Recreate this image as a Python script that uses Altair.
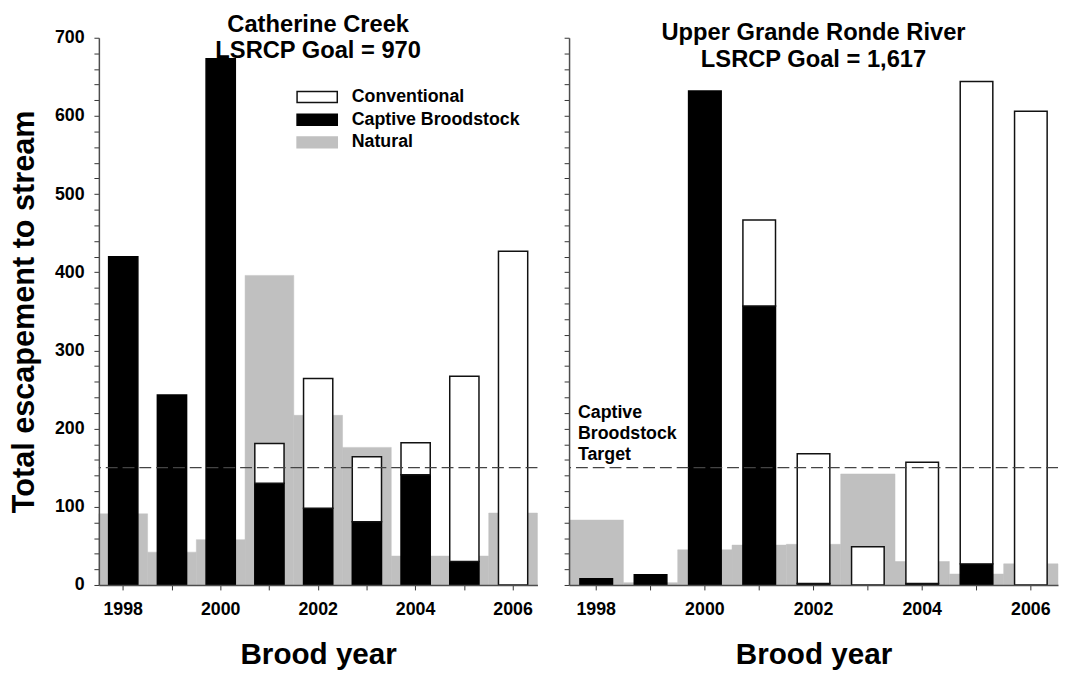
import altair as alt
import pandas as pd

# ---------------- data ----------------
years = [1998, 1999, 2000, 2001, 2002, 2003, 2004, 2005, 2006]

cc_natural = [91, 42, 58, 396, 217, 176, 37, 37, 92]
cc_captive = [420, 243, 673, 130, 98, 81, 141, 30, 0]
cc_conventional = [0, 0, 0, 51, 166, 83, 41, 237, 427]

gr_natural = [83, 3, 45, 51, 52, 142, 30, 14, 27]
gr_captive = [8, 13, 632, 357, 2, 0, 2, 27, 0]
gr_conventional = [0, 0, 0, 110, 166, 49, 155, 617, 606]

captive_target = [150]
target_label = ["Captive", "Broodstock", "Target"]

cc_title = ["Catherine Creek", "LSRCP Goal = 970"]
gr_title = ["Upper Grande Ronde River", "LSRCP Goal = 1,617"]

types = ["Conventional", "Captive Broodstock", "Natural"]
fill_colors = ["white", "black", "#c0c0c0"]
stroke_colors = ["#111111", "black", "#c0c0c0"]

FONT = "Liberation Sans"


def build_df(natural, captive, conventional):
    rows = []
    for yr, n, c, v in zip(years, natural, captive, conventional):
        rows.append({"year": yr, "type": "Natural", "lo": 0, "hi": n})
        rows.append({"year": yr, "type": "Captive Broodstock", "lo": 0, "hi": c})
        rows.append({"year": yr, "type": "Conventional", "lo": c, "hi": c + v})
    return pd.DataFrame(rows)


def panel(df, title_lines, width, left):
    yscale = alt.Scale(domain=[0, 700], nice=False, zero=True)
    xenc = alt.X(
        "year:O",
        scale=alt.Scale(paddingInner=0, paddingOuter=0),
        axis=alt.Axis(
            title="Brood year",
            labelAngle=0,
            labelExpr="datum.value % 2 === 0 ? datum.label : ''",
            tickSize=5,
            labelPadding=11,
            labelFontSize=18,
            titleFontSize=30,
            titlePadding=21,
            zindex=1,
        ),
    )
    if left:
        yaxis = alt.Axis(
            title="Total escapement to stream",
            values=list(range(0, 701, 20)),
            labelExpr="datum.value % 100 === 0 ? datum.label : ''",
            tickSize=5,
            labelPadding=10,
            labelFontSize=18,
            titleFontSize=31,
            titlePadding=14,
            labelFlush=False,
            labelOverlap=False,
            zindex=1,
        )
        legend = alt.Legend(
            title=None,
            orient="none",
            legendX=212,
            legendY=51,
            symbolType="M-3.7,-1H3.7V1H-3.7Z",
            symbolSize=121,
            symbolStrokeWidth=1.5,
            labelFont=FONT,
            labelFontSize=18,
            labelFontWeight="bold",
            labelColor="black",
            labelOffset=26,
            labelLimit=400,
            rowPadding=5,
            padding=0,
        )
    else:
        yaxis = alt.Axis(
            title=None,
            values=list(range(0, 701, 20)),
            labels=False,
            tickSize=5,
            zindex=1,
        )
        legend = None

    yenc = alt.Y("lo:Q", scale=yscale, axis=yaxis)
    fill = alt.Fill("type:N", scale=alt.Scale(domain=types, range=fill_colors), legend=legend)
    stroke = alt.Stroke("type:N", scale=alt.Scale(domain=types, range=stroke_colors), legend=legend)

    base = alt.Chart(df)
    natural = base.transform_filter("datum.type === 'Natural'").mark_bar(
        strokeWidth=0.5, opacity=1
    ).encode(x=xenc, y=yenc, y2="hi:Q", fill=fill, stroke=stroke)

    hatchery = base.transform_filter(
        "datum.type !== 'Natural' && datum.hi > datum.lo"
    ).mark_bar(width=alt.RelativeBandSize(0.6), strokeWidth=1.5, opacity=1).encode(
        x=xenc, y=yenc, y2="hi:Q", fill=fill, stroke=stroke
    )

    tdf = pd.DataFrame({"target": captive_target})
    rule = alt.Chart(tdf).mark_rule(
        strokeDash=[12, 5], color="#444444", strokeWidth=1.3
    ).encode(y=alt.Y("target:Q", scale=yscale, axis=yaxis))

    layers = [natural, hatchery, rule]
    if not left:
        annot = alt.Chart(tdf).mark_text(
            text=target_label,
            align="left",
            baseline="bottom",
            dy=-46,
            lineHeight=21,
            font=FONT,
            fontSize=18,
            fontWeight="bold",
            color="black",
        ).encode(x=alt.value(9), y=alt.Y("target:Q", scale=yscale, axis=yaxis))
        layers.append(annot)

    return alt.layer(*layers).properties(
        width=width,
        height=554,
        title=alt.TitleParams(
            text=title_lines,
            font=FONT,
            fontSize=24,
            fontWeight="bold",
            color="black",
            anchor="middle",
            frame="group",
            offset=-35,
            lineHeight=27,
        ),
    )


left_panel = panel(build_df(cc_natural, cc_captive, cc_conventional), cc_title, 444, True)
right_panel = panel(build_df(gr_natural, gr_captive, gr_conventional), gr_title, 495, False)

chart = (
    alt.hconcat(left_panel, right_panel, spacing=25)
    .resolve_scale(x="independent", y="independent", fill="independent", stroke="independent")
    .properties(padding={"left": 0, "top": 1, "right": 0, "bottom": 0}, background="white")
    .configure_view(stroke=None)
    .configure_axis(
        domainColor="#4d4d4d",
        domainWidth=1.5,
        tickColor="#333333",
        tickWidth=1,
        labelFont=FONT,
        labelFontWeight="bold",
        labelColor="black",
        titleFont=FONT,
        titleFontWeight="bold",
        titleColor="black",
        grid=False,
    )
)

chart.save("out.html", embed_options={"renderer": "svg", "actions": False})
